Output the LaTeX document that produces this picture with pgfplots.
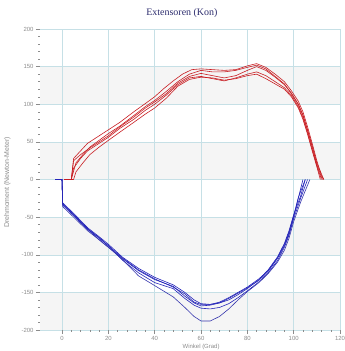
\documentclass[border=0pt]{standalone}
\usepackage{pgfplots}
\pgfplotsset{compat=1.18}
\usepackage{fontspec}
\setmainfont{Liberation Sans}
\newfontfamily\titlefont{Liberation Serif}
\definecolor{redc}{RGB}{200,30,35}
\definecolor{bluec}{RGB}{35,35,185}
\definecolor{gridc}{RGB}{198,224,230}
\definecolor{bandc}{RGB}{245,245,245}
\definecolor{tickc}{RGB}{140,140,140}
\definecolor{titlec}{RGB}{45,45,110}
\begin{document}
\begin{tikzpicture}
\begin{axis}[
 set layers,
 at={(0,0)}, anchor=south west,
 scale only axis, width=300bp, height=301bp,
 xmin=-9.5, xmax=120, ymin=-200, ymax=200,
 xtick={0,20,...,120}, ytick={-200,-150,...,200},
 minor x tick num=4, minor y tick num=4,
 grid=major, major grid style={gridc, line width=0.5pt},
 axis line style={draw=none},
 tick align=outside, tick pos=left,
 major tick length=4bp, minor tick length=1.5bp,
 every tick/.style={tickc, line width=0.4pt},
 tick label style={font=\fontsize{6}{7}\selectfont, text=tickc},
 xticklabel style={yshift=1bp},
 yticklabel style={xshift=1bp},
 /pgf/number format/assume math mode=true,
 title={\titlefont\fontsize{10}{11}\selectfont Extensoren (Kon)},
 title style={text=titlec, at={(axis description cs:0.473,1)}, anchor=base, yshift=8bp},
 xlabel={Winkel (Grad)}, ylabel={Drehmoment (Newton-Meter)},
 xlabel style={font=\fontsize{6}{7}\selectfont, text=tickc, at={(axis description cs:0.537,0)}, anchor=south, inner sep=0.5bp, yshift=-20.5bp},
 ylabel style={font=\fontsize{7}{8}\selectfont, text=tickc, at={(axis description cs:0,0.49)}, anchor=south, yshift=26bp},
 every axis plot/.append style={line width=0.6pt, line join=round},
]
\begin{pgfonlayer}{axis background}
\fill[bandc] (axis cs:-9.5,100) rectangle (axis cs:120,150);
\fill[bandc] (axis cs:-9.5,0) rectangle (axis cs:120,50);
\fill[bandc] (axis cs:-9.5,-100) rectangle (axis cs:120,-50);
\fill[bandc] (axis cs:-9.5,-200) rectangle (axis cs:120,-150);
\end{pgfonlayer}
% red curves
\addplot[redc] coordinates {(1,0)(4,0)(5,28)(8,38)(11,48)(15,56)(20,66)(25,76)(31,90)(36,101)(40,110)(44,121)(48,131)(52,140)(56,146)(60,147)(65,146)(70,145)(75,146)(80,151)(84,154)(88,149)(92,140)(96,130)(99,118)(102,104)(104,90)(106,70)(108,48)(110,25)(112,5)(113,0)};
\addplot[redc] coordinates {(1,0)(4,0)(6,22)(9,33)(12,43)(16,52)(20,61)(25,71)(31,85)(36,97)(40,105)(45,117)(50,130)(55,140)(60,145)(65,143)(70,143)(75,145)(80,149)(84,152)(88,147)(92,137)(96,127)(99,114)(102,100)(104,85)(106,65)(108,43)(110,20)(112,3)(112.5,0)};
\addplot[redc] coordinates {(2,0)(5,0)(6,10)(9,22)(12,33)(16,43)(20,52)(25,63)(31,76)(36,87)(40,95)(45,108)(50,124)(55,133)(60,136)(65,135)(70,132)(75,134)(80,138)(84,140)(88,134)(92,127)(96,120)(99,110)(102,95)(104,80)(106,60)(108,38)(110,17)(111.5,0)};
\addplot[redc] coordinates {(1,0)(4,0)(5,15)(8,28)(11,38)(15,46)(20,56)(25,68)(31,80)(36,92)(40,100)(45,112)(50,126)(55,135)(60,137)(65,134)(70,131)(75,135)(80,140)(84,143)(88,138)(92,130)(96,122)(99,112)(102,97)(104,82)(106,62)(108,40)(110,18)(112,0)};
\addplot[redc] coordinates {(1,0)(4,0)(5,25)(8,33)(12,42)(16,50)(20,58)(25,70)(31,83)(36,95)(40,103)(45,114)(50,128)(55,137)(60,141)(65,138)(70,135)(75,138)(80,145)(84,150)(88,145)(92,136)(96,126)(99,115)(102,100)(104,86)(106,66)(108,45)(110,22)(113,0)};
% blue curves
\addplot[bluec] coordinates {(-3,0)(0,0)(0.3,-31)(5,-45)(11,-64)(16,-76)(20,-86)(26,-103)(33,-118)(40,-130)(48,-140)(53,-150)(57,-160)(60,-165)(64,-166)(68,-164)(72,-158)(76,-151)(80,-144)(85,-134)(89,-122)(93,-105)(96,-88)(98,-72)(100,-50)(102,-25)(104,0)};
\addplot[bluec] coordinates {(-3,0)(0,0)(0.3,-33)(5,-47)(11,-66)(16,-80)(20,-90)(26,-105)(33,-121)(40,-133)(48,-142)(53,-155)(57,-164)(60,-168)(64,-167)(68,-164)(72,-160)(76,-153)(80,-145)(85,-133)(89,-120)(93,-103)(96,-85)(98,-68)(100,-47)(103,-22)(105,0)};
\addplot[bluec] coordinates {(-3,0)(0,0)(0.3,-34)(5,-48)(11,-66)(16,-77)(20,-88)(26,-107)(33,-124)(40,-137)(48,-145)(53,-158)(57,-167)(60,-171)(64,-172)(68,-170)(72,-165)(76,-157)(80,-148)(85,-136)(89,-124)(93,-108)(96,-90)(98,-74)(100,-52)(103,-25)(106,0)};
\addplot[bluec!80!gray] coordinates {(-3,0)(0,0)(0.3,-36)(5,-50)(11,-68)(16,-80)(20,-90)(26,-106)(33,-128)(40,-141)(48,-156)(53,-170)(57,-182)(60,-188)(64,-188)(68,-182)(72,-172)(76,-160)(80,-149)(85,-137)(89,-125)(93,-110)(96,-94)(98,-78)(100,-56)(103,-30)(107,0)};
\addplot[bluec] coordinates {(-3,0)(0,0)(0.3,-32)(5,-46)(11,-65)(16,-78)(20,-88)(26,-104)(33,-120)(40,-132)(48,-143)(53,-152)(57,-163)(60,-166)(64,-166)(68,-163)(72,-157)(76,-150)(80,-143)(85,-132)(89,-121)(93,-104)(96,-86)(98,-70)(100,-48)(102,-24)(105,0)};
\end{axis}
\pgfresetboundingbox
\path[use as bounding box] (-40bp,-21bp) rectangle (305bp,330bp);
\end{tikzpicture}
\end{document}
